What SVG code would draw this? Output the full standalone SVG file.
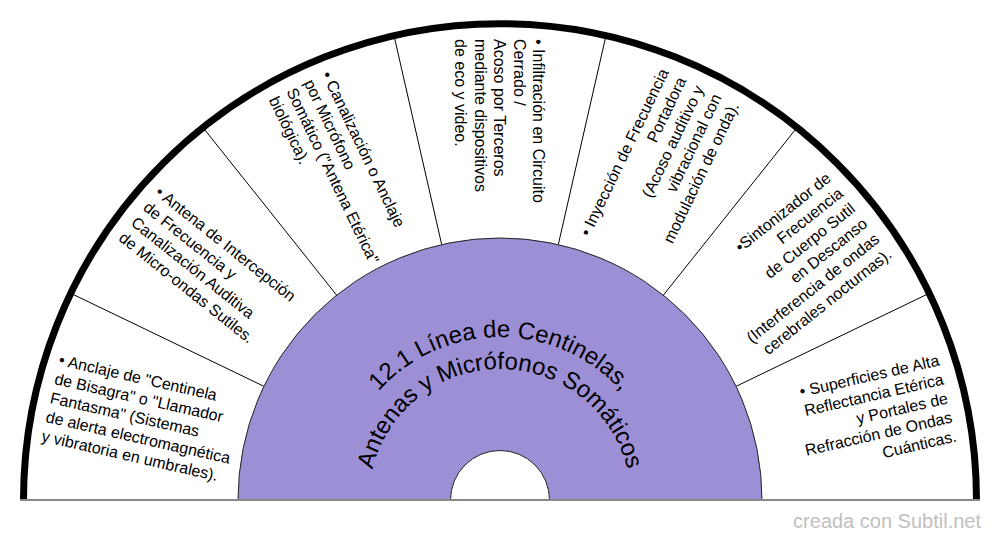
<svg xmlns="http://www.w3.org/2000/svg" width="1000" height="540" viewBox="0 0 1000 540">
<style>
.t{font-family:"Liberation Sans",Arial,sans-serif;font-size:16px;fill:#000}
.te{font-family:"Liberation Sans",Arial,sans-serif;font-size:16px;fill:#000;text-anchor:end}
.ttl{font-family:"Liberation Sans",Arial,sans-serif;font-size:24px;fill:#000;text-anchor:middle}
.div{stroke:#000;stroke-width:1;fill:none}
</style>
<defs>
<path id="arc1" d="M 337 500 A 163 163 0 0 1 663 500"/>
<path id="arc2" d="M 369 500 A 131 131 0 0 1 631 500"/>
</defs>
<rect width="1000" height="540" fill="#fff"/>
<g id="ring">
<path d="M 23.5 500 A 476.5 476.5 0 0 1 976.5 500 Z" fill="#fff"/>
</g>
<g id="connectors">
<line class="div" x1="263.95" y1="386.32" x2="70.24" y2="293.04"/>
<line class="div" x1="336.65" y1="295.16" x2="202.60" y2="127.07"/>
<line class="div" x1="441.70" y1="244.57" x2="393.86" y2="34.96"/>
<line class="div" x1="558.30" y1="244.57" x2="606.14" y2="34.96"/>
<line class="div" x1="663.35" y1="295.16" x2="797.40" y2="127.07"/>
<line class="div" x1="736.05" y1="386.32" x2="929.76" y2="293.04"/>
</g>
<g id="outer-arc">
<path d="M 23.5 500 A 476.5 476.5 0 0 1 976.5 500" fill="none" stroke="#000" stroke-width="7"/>
</g>
<g id="center">
<path d="M 238 500 A 262 262 0 0 1 762 500 L 549.5 500 A 49.5 49.5 0 0 0 450.5 500 Z" fill="#9d8fd5" stroke="#222" stroke-width="1"/>
<text class="ttl"><textPath href="#arc1" startOffset="50%">12.1 Línea de Centinelas,</textPath></text>
<text class="ttl"><textPath href="#arc2" startOffset="50%">Antenas y Micrófonos Somáticos</textPath></text>
</g>
<line x1="20" y1="500" x2="980" y2="500" stroke="#888" stroke-width="2"/>
<g id="s1" transform="translate(500,500) rotate(12.857)">
<text class="t" y="-33.4"><tspan x="-461">• Anclaje de "Centinela</tspan><tspan x="-461" dy="19.5">de Bisagra" o "Llamador</tspan><tspan x="-461" dy="19.5">Fantasma" (Sistemas</tspan><tspan x="-461" dy="19.5">de alerta electromagnética</tspan><tspan x="-461" dy="19.5">y vibratoria en umbrales).</tspan></text>
</g>
<g id="s2" transform="translate(500,500) rotate(38.571)">
<text class="t" y="-23.65"><tspan x="-461">• Antena de Intercepción</tspan><tspan x="-461" dy="19.5">de Frecuencia y</tspan><tspan x="-461" dy="19.5">Canalización Auditiva</tspan><tspan x="-461" dy="19.5">de Micro-ondas Sutiles.</tspan></text>
</g>
<g id="s3" transform="translate(500,500) rotate(64.286)">
<text class="t" y="-23.65"><tspan x="-461">• Canalización o Anclaje</tspan><tspan x="-461" dy="19.5">por Micrófono</tspan><tspan x="-461" dy="19.5">Somático ("Antena Etérica"</tspan><tspan x="-461" dy="19.5">biológica).</tspan></text>
</g>
<g id="s4" transform="translate(500,500) rotate(90)">
<text class="t" y="-33.4"><tspan x="-461">• Infiltración en Circuito</tspan><tspan x="-461" dy="19.5">Cerrado /</tspan><tspan x="-461" dy="19.5">Acoso por Terceros</tspan><tspan x="-461" dy="19.5">mediante dispositivos</tspan><tspan x="-461" dy="19.5">de eco y video.</tspan></text>
</g>
<g id="s5" transform="translate(500,500) rotate(-64.286)">
<text class="te" y="-33.4"><tspan x="459">• Inyección de Frecuencia</tspan><tspan x="459" dy="19.5">Portadora</tspan><tspan x="459" dy="19.5">(Acoso auditivo y</tspan><tspan x="459" dy="19.5">vibracional con</tspan><tspan x="459" dy="19.5">modulación de onda).</tspan></text>
</g>
<g id="s6" transform="translate(500,500) rotate(-38.571)">
<text class="te" y="-43.15"><tspan x="459">•Sintonizador de</tspan><tspan x="459" dy="19.5">Frecuencia</tspan><tspan x="459" dy="19.5">de Cuerpo Sutil</tspan><tspan x="459" dy="19.5">en Descanso</tspan><tspan x="459" dy="19.5">(Interferencia de ondas</tspan><tspan x="459" dy="19.5">cerebrales nocturnas).</tspan></text>
</g>
<g id="s7" transform="translate(500,500) rotate(-12.857)">
<text class="te" y="-33.4"><tspan x="459">• Superficies de Alta</tspan><tspan x="459" dy="19.5">Reflectancia Etérica</tspan><tspan x="459" dy="19.5">y Portales de</tspan><tspan x="459" dy="19.5">Refracción de Ondas</tspan><tspan x="459" dy="19.5">Cuánticas.</tspan></text>
</g>
<text x="981" y="528" font-family="'Liberation Sans',Arial,sans-serif" font-size="20" fill="#c0c0c0" text-anchor="end">creada con Subtil.net</text>
</svg>
